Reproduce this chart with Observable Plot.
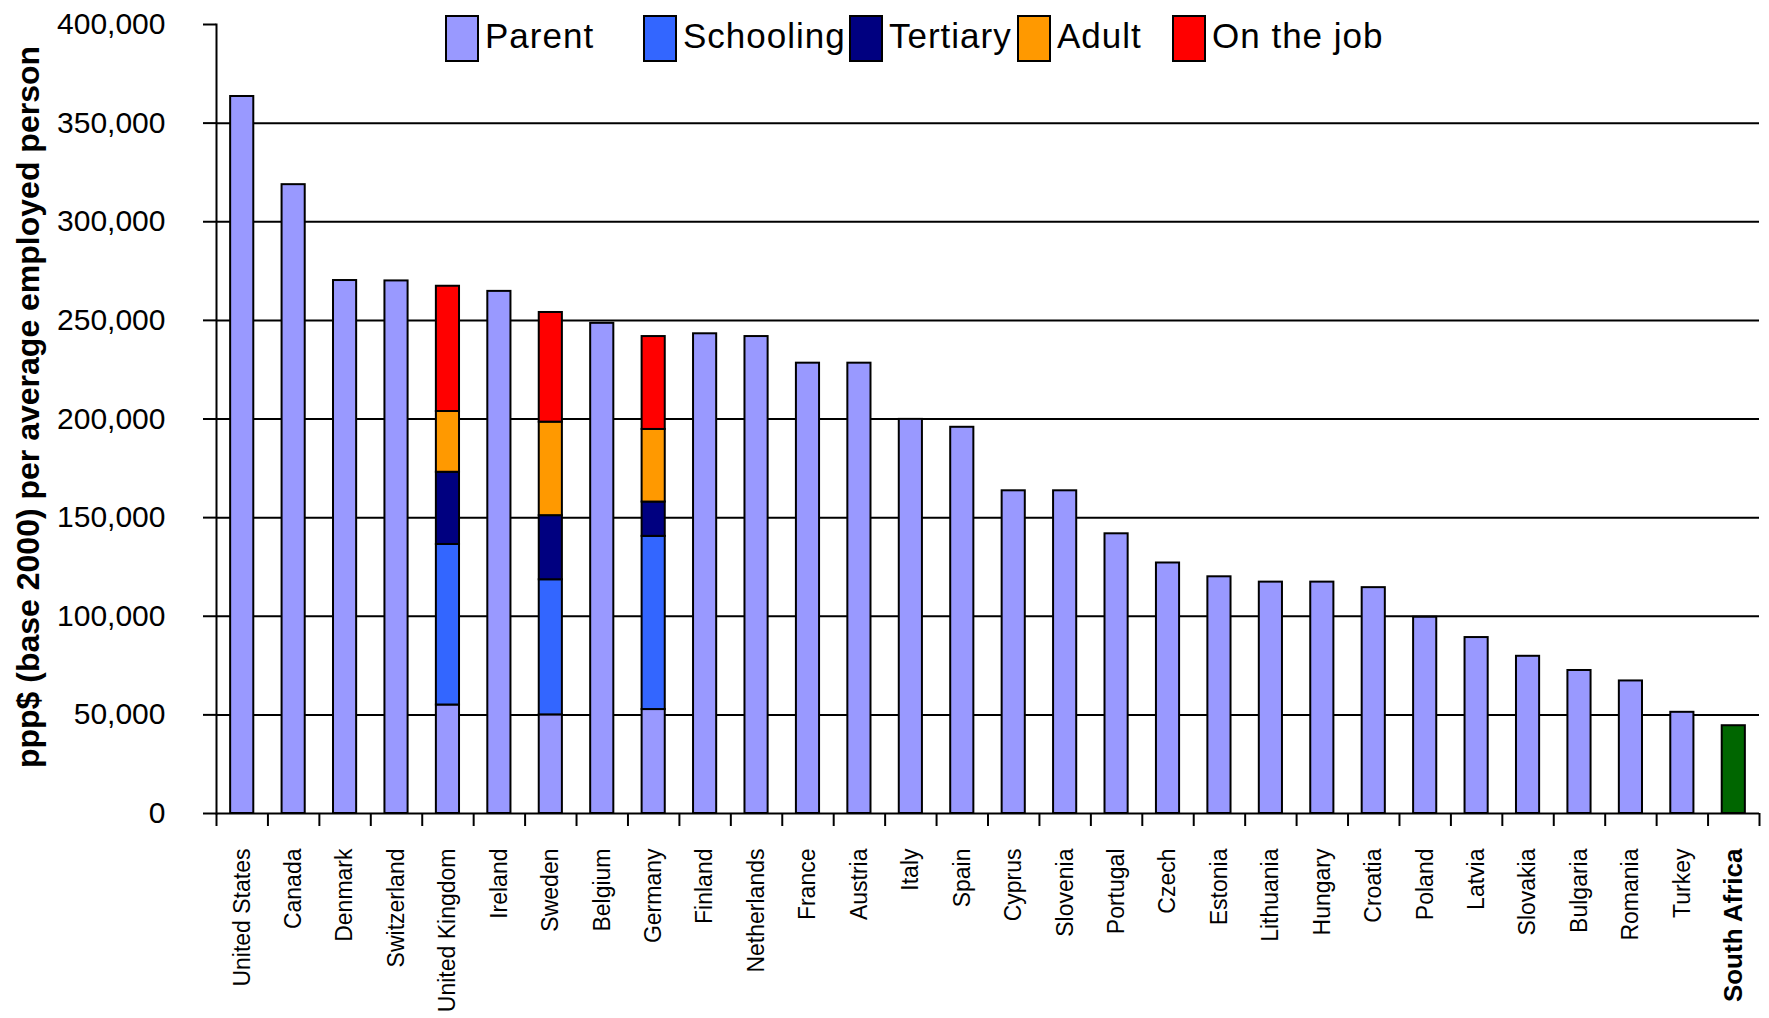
<!DOCTYPE html>
<html>
<head>
<meta charset="utf-8">
<script src="https://cdn.jsdelivr.net/npm/d3@7"></script>
<script src="https://cdn.jsdelivr.net/npm/@observablehq/plot@0.6"></script>
<style>
  html, body { margin: 0; padding: 0; background: #fff; }
  #wrap { position: relative; width: 1769px; height: 1018px; font-family: "Liberation Sans", Arial, sans-serif; }
  .lg-box { position: absolute; top: 15px; width: 34px; height: 47px; box-sizing: border-box; border: 2px solid #000; }
  .lg-txt { position: absolute; top: 16px; font-size: 35px; letter-spacing: 1px; line-height: normal; color: #000; white-space: nowrap; }
</style>
</head>
<body>
<div id="wrap"></div>
<script>
// ---- data (ppp$ base 2000 per average employed person) ----
const countries = ["United States","Canada","Denmark","Switzerland","United Kingdom","Ireland","Sweden","Belgium","Germany","Finland","Netherlands","France","Austria","Italy","Spain","Cyprus","Slovenia","Portugal","Czech","Estonia","Lithuania","Hungary","Croatia","Poland","Latvia","Slovakia","Bulgaria","Romania","Turkey","South Africa"];
const parent = [363500,318800,270200,270000,55000,264700,50000,248500,52700,243200,241800,228300,228300,199800,195800,163600,163600,141800,127000,120000,117300,117300,114500,99500,89200,79700,72500,67200,51300,44500];

const components = ["Parent","Schooling","Tertiary","Adult","On the job"];
const componentColors = ["#9999FF","#3366FF","#000080","#FF9900","#FF0000"];
const highlightCountry = "South Africa";
const highlightColor = "#006600";

const splitCountries = ["United Kingdom","Sweden","Germany"];
const schooling = [81400, 68500, 87800];
const tertiary  = [36600, 32500, 17400];
const adult     = [30800, 47400, 36800];
const onTheJob  = [63500, 55600, 47100];

const yTicks = [0,50000,100000,150000,200000,250000,300000,350000,400000];
const yLabel = "ppp$ (base 2000) per average employed person";

// ---- tidy rows ----
const rows = [];
countries.forEach((c, i) => {
  rows.push({country: c, component: c === highlightCountry ? "highlight" : "Parent", value: parent[i]});
  const j = splitCountries.indexOf(c);
  if (j >= 0) {
    rows.push({country: c, component: "Schooling", value: schooling[j]});
    rows.push({country: c, component: "Tertiary", value: tertiary[j]});
    rows.push({country: c, component: "Adult", value: adult[j]});
    rows.push({country: c, component: "On the job", value: onTheJob[j]});
  }
});

// ---- layout ----
const W = 1769, H = 1018;
const mL = 216, mR = 10, mT = 24, mB = 205;
const step = (W - mL - mR) / countries.length;

const chart = Plot.plot({
  width: W, height: H,
  marginTop: mT, marginBottom: mB, marginLeft: mL, marginRight: mR,
  style: {fontFamily: "'Liberation Sans', Arial, sans-serif", color: "#000", background: "#fff", overflow: "visible"},
  x: {domain: countries, paddingInner: 0.55, paddingOuter: 0.275, round: false, label: null},
  y: {domain: [0, 400000], label: null},
  color: {domain: [...components, "highlight"], range: [...componentColors, highlightColor]},
  marks: [
    Plot.gridY(yTicks.filter(t => t > 0 && t < 400000), {stroke: "#000", strokeOpacity: 1, strokeWidth: 2}),
    Plot.barY(rows, {x: "country", y: "value", fill: "component", stroke: "#000", strokeWidth: 2}),
    Plot.ruleY([0], {stroke: "#000", strokeWidth: 2}),
    Plot.frame({anchor: "left", stroke: "#000", strokeWidth: 2}),
    Plot.axisY({ticks: yTicks, tickSize: 13, tickPadding: 38, tickFormat: d3.format(","), fontSize: 30, label: null, stroke: "#000", strokeWidth: 2}),
    Plot.ruleX(countries, {x: d => d, y: 0, insetBottom: -13, dx: -step / 2, stroke: "#000", strokeWidth: 2}),
    Plot.ruleX([countries[countries.length - 1]], {x: d => d, y: 0, insetBottom: -13, dx: step / 2, stroke: "#000", strokeWidth: 2}),
    Plot.axisX(countries.filter(c => c !== highlightCountry), {tickSize: 0, tickRotate: -90, tickPadding: 35, fontSize: 23, label: null}),
    Plot.axisX([highlightCountry], {tickSize: 0, tickRotate: -90, tickPadding: 35, fontSize: 26, fontWeight: "bold", label: null}),
    Plot.text([yLabel], {text: d => d, frameAnchor: "left", textAnchor: "middle", rotate: -90, dx: -188, dy: -12, fontSize: 32, fontWeight: "bold", fill: "#000"})
  ]
});

const wrap = document.getElementById("wrap");
wrap.appendChild(chart);

// ---- legend (drawn over the top of the plot area, as in the original) ----
const legendLeft = [445, 643, 849, 1017, 1172];
components.forEach((name, i) => {
  const b = document.createElement("div");
  b.className = "lg-box";
  b.style.left = legendLeft[i] + "px";
  b.style.background = componentColors[i];
  wrap.appendChild(b);
  const t = document.createElement("div");
  t.className = "lg-txt";
  t.style.left = (legendLeft[i] + 40) + "px";
  t.textContent = name;
  wrap.appendChild(t);
});
</script>
</body>
</html>
